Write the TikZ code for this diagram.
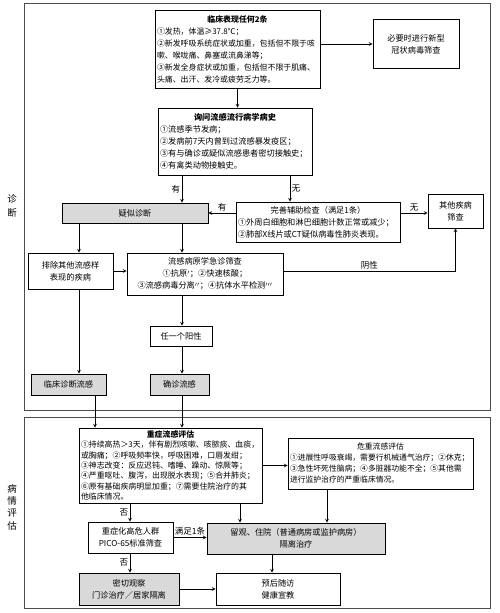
\documentclass[tikz,border=0pt]{standalone}
\usepackage{fontspec}
\setmainfont{Noto Sans CJK SC}

\begin{document}
\begin{tikzpicture}[x=1pt,y=-1pt,
  box/.style={draw,line width=0.7pt,inner xsep=2pt,inner ysep=1pt,font=\fontsize{8.2}{12}\selectfont},
  greybox/.style={box,fill=gray!30},
  frame/.style={draw=black!70,line width=1pt},
  arr/.style={line width=0.7pt,>=stealth,->},
  lbl/.style={inner sep=1.5pt,font=\fontsize{8.5}{10}\selectfont}]

  \useasboundingbox (0,0) rectangle (500,613);

% frames and side labels
  \draw[frame] (24,3) rectangle (490,410);
  \draw[frame] (24,417) rectangle (490,608);
  \node[lbl,align=center,font=\fontsize{9.5}{14}\selectfont] (diag) at (12,206) {诊\\断};
  \node[lbl,align=center,font=\fontsize{9.5}{12.3}\selectfont] (eval) at (12,507) {病\\情\\评\\估};

% columns for the vertical connectors
  \coordinate (leftcol) at (79,0);
  \coordinate (midcol) at (182,0);
  \coordinate (auxcol) at (290,0);
  \coordinate (clincol) at (95,0);
  \coordinate (riskcol) at (130,0);
  \coordinate (sevcol) at (240,0);
  \coordinate (critcol) at (327,0);
  \coordinate (hospcol) at (272,0);

% diagnosis part
  \node[box,minimum width=165,minimum height=78,text width=161pt,align=left,font=\fontsize{7.9}{12}\selectfont] (sym) at (237.5,49)
    {\hspace*{\fill}\textbf{临床表现任何2条}\hspace*{\fill}\null\\
     ①发热，体温≥37.8℃；\\
     ②新发呼吸系统症状或加重，包括但不限于咳\\
     嗽、喉咙痛、鼻塞或流鼻涕等；\\
     ③新发全身症状或加重，包括但不限于肌痛、\\
     头痛、出汗、发冷或疲劳乏力等。};
  \node[box,minimum width=86,minimum height=49,align=center] (covid) at (416,44) {必要时进行新型\\冠状病毒筛查};
  \node[box,minimum width=154,minimum height=67,text width=150pt,align=left] (hist) at (235,141.5)
    {\hspace*{\fill}\textbf{询问流感流行病学病史}\hspace*{\fill}\null\\
     ①流感季节发病；\\
     ②发病前7天内曾到过流感暴发疫区；\\
     ③有与确诊或疑似流感患者密切接触史；\\
     ④有禽类动物接触史。};
  \node[greybox,minimum width=146,minimum height=20] (susp) at (135,213) {疑似诊断};
  \node[box,minimum width=164,minimum height=40,text width=160pt,align=left] (aux) at (318,222)
    {\hspace*{\fill}完善辅助检查（满足1条）\hspace*{\fill}\null\\
     ①外周白细胞和淋巴细胞计数正常或减少；\\
     ②肺部X线片或CT疑似病毒性肺炎表现。};
  \node[box,minimum width=55,minimum height=34,align=center] (other) at (455.5,211) {其他疾病\\筛查};
  \node[box,minimum width=85,minimum height=36,align=center] (excl) at (70.5,271) {排除其他流感样\\表现的疾病};
  \node[box,minimum width=156,minimum height=42,align=center] (test) at (205,274)
    {流感病原学急诊筛查\\①抗原$'$；②快速核酸；\\③流感病毒分离$''$；④抗体水平检测$'''$};
  \node[box,minimum width=62,minimum height=20] (pos) at (181,336) {任一个阳性};
  \node[greybox,minimum width=75,minimum height=21] (clin) at (68.5,384.5) {临床诊断流感};
  \node[greybox,minimum width=59,minimum height=21] (conf) at (179.5,384.5) {确诊流感};

% evaluation part
  \node[box,minimum width=183,minimum height=75,text width=179pt,align=left,font=\fontsize{7.9}{10.4}\selectfont] (severe) at (170.5,465.5)
    {\hspace*{\fill}\textbf{重症流感评估}\hspace*{\fill}\null\\
     ①持续高热＞3天，伴有剧烈咳嗽、咳脓痰、血痰，\\
     或胸痛；②呼吸频率快，呼吸困难，口唇发绀；\\
     ③神志改变：反应迟钝、嗜睡、躁动、惊厥等；\\
     ④严重呕吐、腹泻，出现脱水表现；⑤合并肺炎；\\
     ⑥原有基础疾病明显加重；⑦需要住院治疗的其\\
     他临床情况。};
  \node[box,minimum width=185,minimum height=51,text width=181pt,align=left,font=\fontsize{7.8}{11}\selectfont] (crit) at (380.5,463.5)
    {\hspace*{\fill}危重流感评估\hspace*{\fill}\null\\
     ①进展性呼吸衰竭，需要行机械通气治疗；②休克；\\
     ③急性坏死性脑病；④多脏器功能不全；⑤其他需\\
     进行监护治疗的严重临床情况。};
  \node[box,minimum width=85,minimum height=31,align=center] (risk) at (130.5,537.5) {重症化高危人群\\PICO-65标准筛查};
  \node[greybox,minimum width=178,minimum height=31,align=center] (hosp) at (296,538.5) {留观、住院（普通病房或监护病房）\\隔离治疗};
  \node[greybox,minimum width=100,minimum height=32,align=center] (obs) at (129,589) {密切观察\\门诊治疗／居家隔离};
  \node[box,minimum width=124,minimum height=32,align=center] (follow) at (278,589) {预后随访\\健康宣教};

% connectors
  \draw[arr] (sym.south) -- (sym.south |- hist.north);
  \draw[arr] (sym.east |- covid.west) -- (covid.west);
  \draw[arr] (hist.south -| midcol) -- (susp.north -| midcol) node[lbl,midway,left] (yes1) {有};
  \draw[arr] (hist.south -| auxcol) -- (aux.north -| auxcol) node[lbl,midway,right] (no1) {无};
  \draw[arr] (aux.west |- susp.east) -- (susp.east) node[lbl,midway,above] (yes2) {有};
  \draw[arr] (aux.east |- susp.east) -- (other.west |- susp.east) node[lbl,midway,above] (no2) {无};
  \draw[arr] (susp.south -| leftcol) -- (excl.north -| leftcol);
  \draw[arr] (susp.south -| midcol) -- (test.north -| midcol);
  \draw[arr] (excl.east) -- (excl.east -| test.west);
  \draw[arr] (test.east |- excl.east) -| (other.south) node[lbl,pos=0.25,above] (neg) {阴性};
  \draw[arr] (test.south -| midcol) -- (pos.north -| midcol);
  \draw[arr] (excl.south -| leftcol) -- (clin.north -| leftcol);
  \draw[arr] (pos.south -| midcol) -- (conf.north -| midcol);
  \draw[arr] (clin.south -| clincol) -- (severe.north -| clincol);
  \draw[arr] (conf.south -| midcol) -- (severe.north -| midcol);
  \draw[arr] (severe.east) -- (severe.east -| crit.west);
  \draw[arr] (severe.south -| riskcol) -- (risk.north -| riskcol) node[lbl,midway,left] (no3) {否};
  \draw[arr] (severe.south -| sevcol) -- (hosp.north -| sevcol);
  \draw[arr] (crit.south -| critcol) -- (hosp.north -| critcol);
  \draw[arr] (risk.east) -- (risk.east -| hosp.west) node[lbl,midway,above] (meet) {满足1条};
  \draw[arr] (risk.south -| riskcol) -- (obs.north -| riskcol) node[lbl,midway,left] (no4) {否};
  \draw[arr] (hosp.south -| hospcol) -- (follow.north -| hospcol);
  \draw[arr] (obs.east) -- (obs.east -| follow.west);

\end{tikzpicture}
\end{document}
